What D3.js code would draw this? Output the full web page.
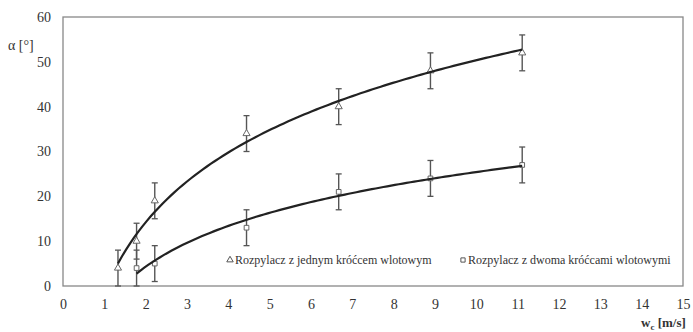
<!DOCTYPE html>
<html>
<head>
<meta charset="utf-8">
<script src="https://cdn.jsdelivr.net/npm/d3@7"></script>
<style>
  body { margin: 0; background: #fff; }
</style>
</head>
<body>
<svg id="chart" width="693" height="332"></svg>
<script>
// data
const xJeden = [1.33, 1.78, 2.22, 4.44, 6.67, 8.89, 11.11];
const yJeden = [4, 10, 19, 34, 40, 48, 52];
const xDwa = [1.78, 2.22, 4.44, 6.67, 8.89, 11.11];
const yDwa = [4, 5, 13, 21, 24, 27];
const errBar = 4;
const xTicks = d3.range(0, 16);
const yTicks = [0, 10, 20, 30, 40, 50, 60];
const seriesNames = ["Rozpylacz z jednym króćcem wlotowym", "Rozpylacz z dwoma króćcami wlotowymi"];

const serif = "Liberation Serif, serif";

const svg = d3.select("#chart");
const x = d3.scaleLinear().domain([0, 15]).range([63, 683]);
const y = d3.scaleLinear().domain([0, 60]).range([286, 17]);

// logarithmic trend line, least squares like the spreadsheet does it
function logFit(xs, ys) {
  const lx = xs.map(Math.log);
  const mx = d3.mean(lx), my = d3.mean(ys);
  const a = d3.sum(lx, (v, i) => (v - mx) * (ys[i] - my)) / d3.sum(lx, v => (v - mx) * (v - mx));
  const b = my - a * mx;
  return v => a * Math.log(v) + b;
}

// plot frame
svg.append("rect")
  .attr("x", x(0)).attr("y", y(60))
  .attr("width", x(15) - x(0)).attr("height", y(0) - y(60))
  .attr("fill", "none").attr("stroke", "#888").attr("stroke-width", 1.3);

const xAxis = svg.append("g")
  .attr("transform", "translate(0," + y(0) + ")")
  .call(d3.axisBottom(x).tickValues(xTicks).tickSize(0).tickPadding(13).tickFormat(d3.format("d")));
xAxis.select(".domain").remove();
xAxis.selectAll("text").attr("fill", "#333")
  .style("font-family", serif).style("font-size", "14px");

const yAxis = svg.append("g")
  .attr("transform", "translate(" + x(0) + ",0)")
  .call(d3.axisLeft(y).tickValues(yTicks).tickSize(0).tickPadding(12));
yAxis.select(".domain").remove();
yAxis.selectAll("text").attr("fill", "#333")
  .style("font-family", serif).style("font-size", "14px");

svg.append("text").attr("x", 8).attr("y", 50)
  .style("font-family", serif).style("font-size", "14px").attr("fill", "#333").text("α [°]");

const wl = svg.append("text").attr("x", 641).attr("y", 327)
  .style("font-family", serif).style("font-size", "13px").style("font-weight", "bold").attr("fill", "#333");
wl.append("tspan").text("w");
wl.append("tspan").attr("dy", 3).style("font-size", "9px").text("c");
wl.append("tspan").attr("dy", -3).text(" [m/s]");

const line = d3.line().x(d => x(d[0])).y(d => y(d[1]));

function drawSeries(xs, ys, shape) {
  const f = logFit(xs, ys);
  const pts = d3.range(0, 101).map(i => {
    const v = xs[0] + (xs[xs.length - 1] - xs[0]) * i / 100;
    return [v, f(v)];
  });
  const g = svg.append("g");
  g.selectAll(null).data(xs).enter().append("line")
    .attr("x1", d => x(d)).attr("x2", d => x(d))
    .attr("y1", (d, i) => y(Math.min(60, ys[i] + errBar)))
    .attr("y2", (d, i) => y(Math.max(0, ys[i] - errBar)))
    .attr("stroke", "#555").attr("stroke-width", 1.4);
  [1, -1].forEach(s => {
    g.selectAll(null).data(xs).enter().append("line")
      .attr("x1", d => x(d) - 3).attr("x2", d => x(d) + 3)
      .attr("y1", (d, i) => y(Math.max(0, ys[i] + s * errBar)))
      .attr("y2", (d, i) => y(Math.max(0, ys[i] + s * errBar)))
      .attr("stroke", "#555").attr("stroke-width", 1.3);
  });
  g.selectAll(null).data(xs).enter().append("path")
    .attr("transform", (d, i) => "translate(" + x(d) + "," + y(ys[i]) + ")")
    .attr("d", d3.symbol().type(shape).size(22))
    .attr("fill", "#fff").attr("stroke", "#666").attr("stroke-width", 1);
  g.append("path").datum(pts).attr("d", line)
    .attr("fill", "none").attr("stroke", "#222").attr("stroke-width", 2.2);
}

drawSeries(xJeden, yJeden, d3.symbolTriangle);
drawSeries(xDwa, yDwa, d3.symbolSquare);

// legend
const legX = [230, 463];
seriesNames.forEach((name, i) => {
  const lg = svg.append("g").attr("transform", "translate(" + legX[i] + ",260)");
  lg.append("path").attr("d", d3.symbol().type(i === 0 ? d3.symbolTriangle : d3.symbolSquare).size(18))
    .attr("fill", "#fff").attr("stroke", "#555").attr("stroke-width", 1);
  lg.append("text").attr("x", 5).attr("y", 4).attr("fill", "#333")
    .style("font-family", serif).style("font-size", "12px").text(name);
});
</script>
</body>
</html>
